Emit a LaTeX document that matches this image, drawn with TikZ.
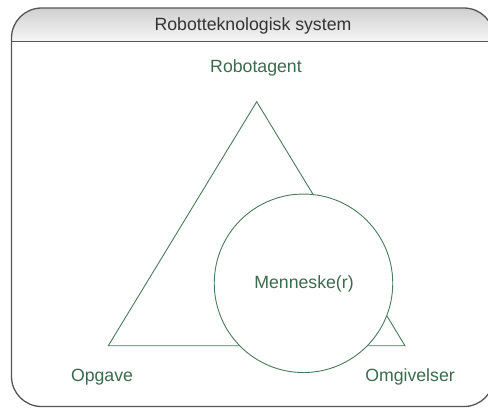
\documentclass[tikz,border=0pt]{standalone}
\usepackage{fontspec}
\setmainfont{Liberation Sans}
\definecolor{framegray}{HTML}{555555}
\definecolor{labelgreen}{HTML}{3B6B4C}
\definecolor{linegreen}{HTML}{4A7A5A}
\definecolor{headtop}{HTML}{CFCFCF}
\definecolor{headbot}{HTML}{F7F7F7}
\begin{document}
\begin{tikzpicture}[x=1pt,y=-1pt,
  lbl/.style={font=\fontsize{17.7}{20}\selectfont, text=labelgreen, inner sep=0pt, anchor=base},
  headlbl/.style={font=\fontsize{17.7}{20}\selectfont, text=black!80, inner sep=0pt, anchor=base},
  shapeline/.style={draw=linegreen, line width=0.9pt}]
  \useasboundingbox (0,0) rectangle (488,408);
  \begin{scope}
    \clip (0,0) rectangle (488,408);
    % header band with gradient
    \begin{scope}
      \clip[rounded corners=30pt] (11.5,8) rectangle (494,406.5);
      \shade[top color=headtop, bottom color=headbot] (11.5,8) rectangle (494,41.7);
    \end{scope}
    \draw[framegray, line width=1.1pt] (11.5,41.7) -- (494,41.7);
    \draw[framegray, line width=1.3pt, rounded corners=30pt] (11.5,8) rectangle (494,406.5);
    \node[headlbl] (title) at (253,30.5) {Robotteknologisk system};

    % triangle of corners and overlapping circle
    \coordinate (apex) at (256.7,101.7);
    \coordinate (bl) at (108.3,345.7);
    \coordinate (br) at (405,345.7);
    \draw[shapeline] (apex) -- (bl) -- (br) -- cycle;
    \node[draw=linegreen, fill=white, line width=0.9pt, circle, minimum size=178.5pt, inner sep=0pt] (human) at (303.5,283.3) {};

    \node[lbl] (robot) at (256,72.7) {Robotagent};
    \node[lbl] (menneske) at (304,288.3) {Menneske(r)};
    \node[lbl] (opgave) at (102,381.5) {Opgave};
    \node[lbl] (omg) at (410,381.5) {Omgivelser};
  \end{scope}
\end{tikzpicture}
\end{document}
